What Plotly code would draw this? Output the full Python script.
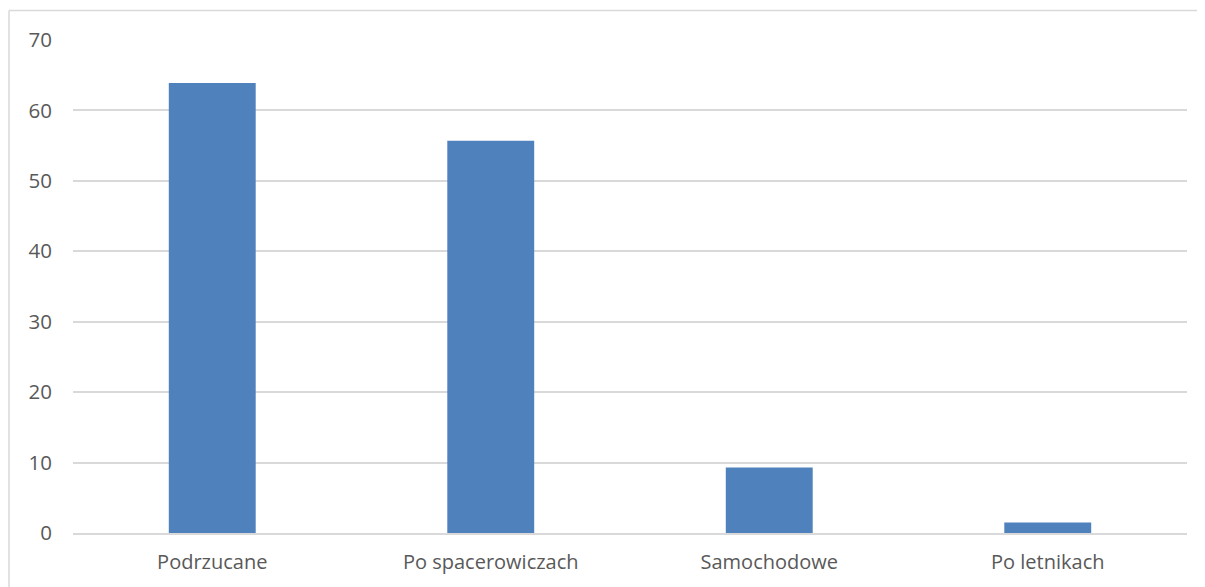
import plotly.graph_objects as go

categories = ["Podrzucane", "Po spacerowiczach", "Samochodowe", "Po letnikach"]
values = [63.9, 55.7, 9.3, 1.5]
y_ticks = [0, 10, 20, 30, 40, 50, 60, 70]

fig = go.Figure()
fig.add_trace(go.Bar(
    x=categories, y=values,
    marker=dict(color="#4F81BD", line=dict(color="#4F81BD", width=0)),
    width=0.312,
))

font_family = "Open Sans"
fig.update_layout(
    width=1205, height=587,
    margin=dict(l=65, r=26, t=32, b=62),
    paper_bgcolor="white", plot_bgcolor="white",
    showlegend=False,
    font=dict(family=font_family, size=20, color="#595959"),
    xaxis=dict(
        showgrid=False, showline=True, linecolor="#D9D9D9", linewidth=1.5,
        ticks="", tickfont=dict(size=20, color="#595959"),
        ticklabelstandoff=10,
    ),
    yaxis=dict(
        range=[0, 70], tickvals=y_ticks, showgrid=True,
        gridcolor="#D9D9D9", gridwidth=1.5, zeroline=False,
        showline=False, ticks="", tickfont=dict(size=20.5, color="#595959"),
        ticklabelstandoff=20,
    ),
    shapes=[
        dict(type="line", xref="paper", yref="paper",
             x0=(9 - 73) / 1114, x1=(1260 - 73) / 1114,
             y0=(533 - 10.5) / 493, y1=(533 - 10.5) / 493,
             line=dict(color="#D9D9D9", width=1.5)),
        dict(type="line", xref="paper", yref="paper",
             x0=(9 - 73) / 1114, x1=(9 - 73) / 1114,
             y0=(533 - 10.5) / 493, y1=(533 - 600) / 493,
             line=dict(color="#D9D9D9", width=1.5)),
    ],
)

fig.write_html("out.html")
